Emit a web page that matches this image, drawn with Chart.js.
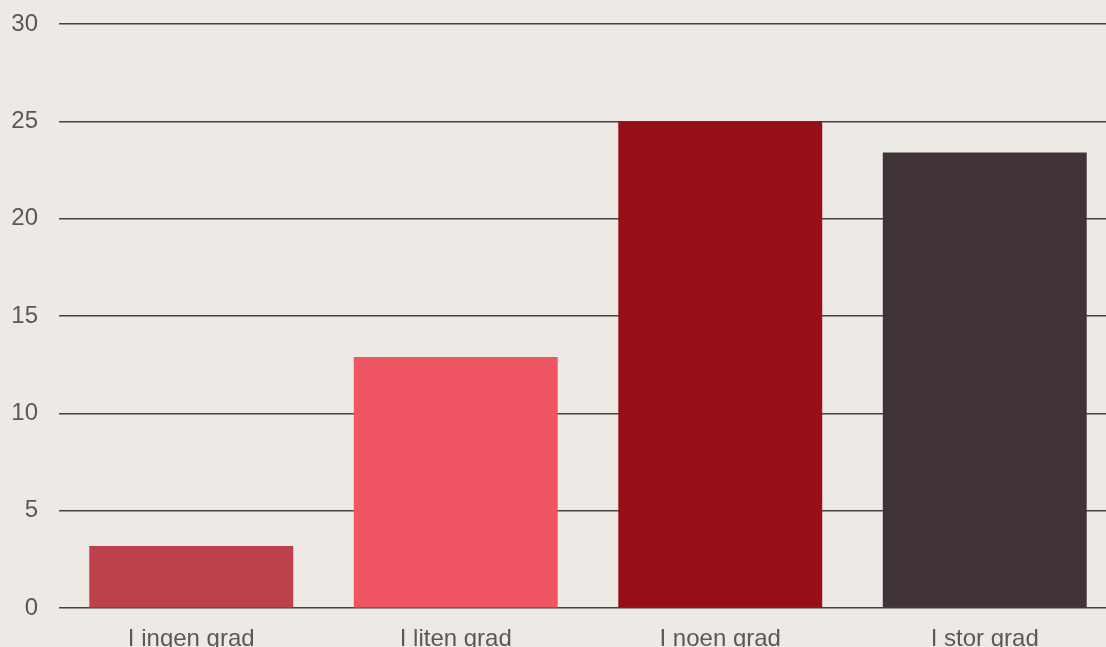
<!DOCTYPE html>
<html>
<head>
<meta charset="utf-8">
<script src="https://cdn.jsdelivr.net/npm/chart.js@4"></script>
<style>
  html, body { margin: 0; padding: 0; overflow: hidden; background: #edeae5; }
  #wrap { width: 1117px; height: 663px; }
</style>
</head>
<body>
<div id="wrap"><canvas id="chart"></canvas></div>
<script>
const categories = ['I ingen grad', 'I liten grad', 'I noen grad', 'I stor grad'];
const values = [3.2, 12.9, 25.0, 23.4];
const barColors = ['#bc414b', '#f05563', '#960e18', '#3f3337'];
const yTicks = [0, 5, 10, 15, 20, 25, 30];

Chart.defaults.font.family = 'Arial, "Liberation Sans", sans-serif';
Chart.defaults.color = '#595959';

new Chart(document.getElementById('chart'), {
    type: 'bar',
    data: {
        labels: categories,
        datasets: [{
            data: values,
            backgroundColor: barColors,
            borderWidth: 0,
            categoryPercentage: 1,
            barPercentage: 0.771
        }]
    },
    options: {
        responsive: true,
        maintainAspectRatio: false,
        animation: false,
        layout: { padding: { top: 24, left: 0, right: 0, bottom: 0 } },
        plugins: { legend: { display: false }, tooltip: { enabled: false } },
        scales: {
            x: {
                grid: { display: false },
                border: { display: false },
                ticks: { font: { size: 24 }, padding: 9 }
            },
            y: {
                min: 0,
                max: 30,
                afterBuildTicks: axis => { axis.ticks = yTicks.map(v => ({ value: v })); },
                afterFit: axis => {
                    axis.width = 59;
                    axis.paddingTop = 0;
                    axis.paddingBottom = 0;
                },
                grid: { color: '#4a4043', lineWidth: 1.5, drawTicks: false },
                border: { display: false },
                ticks: { font: { size: 24 }, padding: 21 }
            }
        }
    }
});
</script>
</body>
</html>
